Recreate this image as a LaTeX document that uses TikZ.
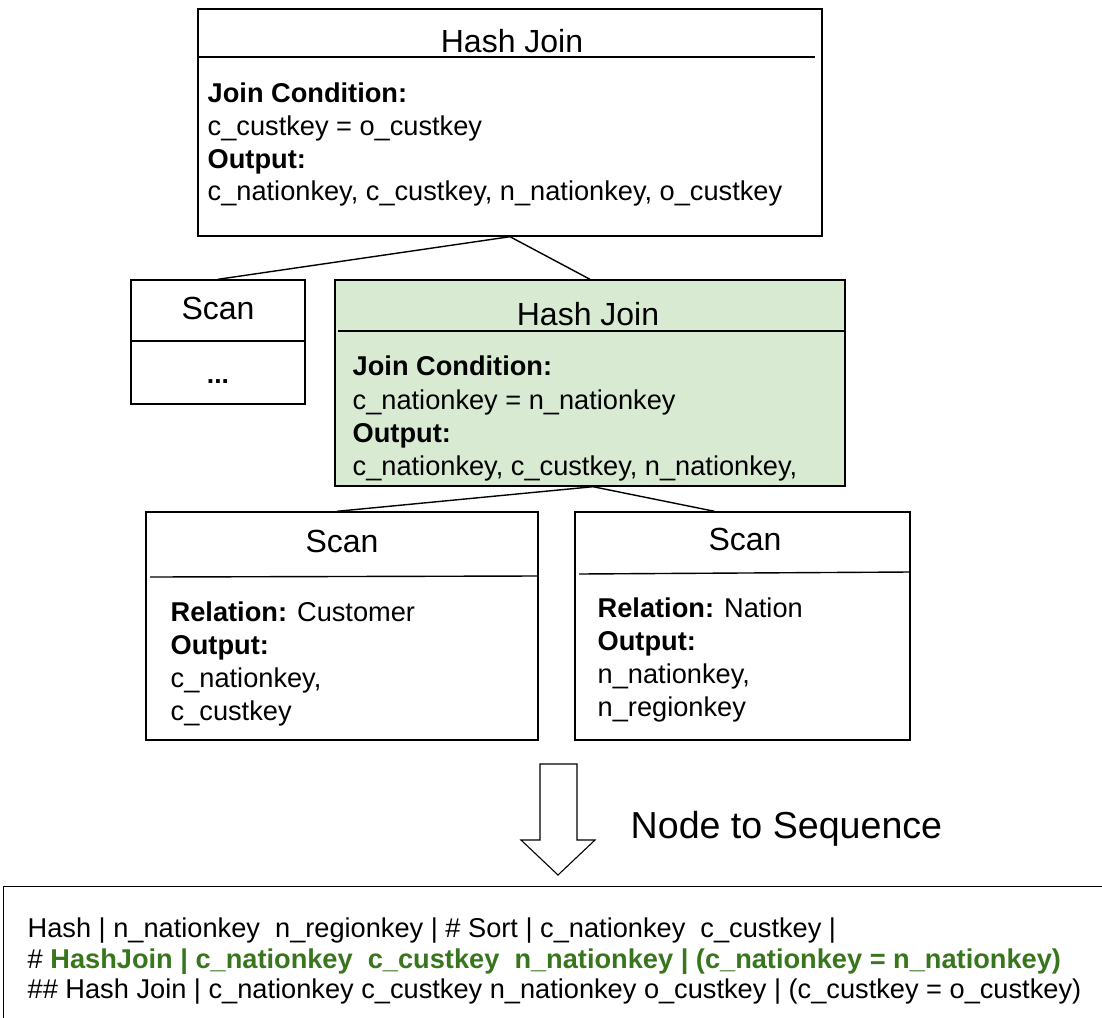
\documentclass[tikz,border=0pt]{standalone}
\usepackage{fontspec}
\setmainfont{Liberation Sans}
\usetikzlibrary{calc}
\definecolor{joinfill}{HTML}{D9EAD3}
\definecolor{seqgreen}{HTML}{38761D}

\begin{document}
\begin{tikzpicture}[x=1pt,y=-1pt,line width=1.4pt,
  box/.style={draw, rectangle, inner sep=0pt},
  optitle/.style={font=\fontsize{32}{36}\selectfont, anchor=base, inner sep=0pt},
  bodytext/.style={font=\fontsize{27.2}{32.5}\selectfont, anchor=base west, inner sep=0pt},
  seqtext/.style={font=\fontsize{27.2}{31}\selectfont, anchor=base west, inner sep=0pt},
  link/.style={line width=1.4pt}]
\useasboundingbox (0,0) rectangle (1102,1017);
\clip (0,0) rectangle (1102,1017);

% ---- operator boxes ----
\node[box, minimum width=624pt, minimum height=227pt] (hjtop) at (510,122.5) {};
\node[box, minimum width=174pt, minimum height=124pt] (scanL) at (218,342) {};
\node[box, fill=joinfill, minimum width=510pt, minimum height=206pt] (hjmid) at (590,383) {};
\node[box, minimum width=392pt, minimum height=228pt] (scanC) at (342,626) {};
\node[box, minimum width=335pt, minimum height=228pt] (scanN) at (742.5,626) {};

% title separators
\draw (198,57) -- (815,57);
\draw (131,341) -- (305,341);
\draw (338,331) -- (845,331);
\draw (150,577) -- (538,576);
\draw (579,574) -- (910,572);

% ---- tree edges ----
\draw[link] (hjtop.south) -- (scanL.north);
\draw[link] (hjtop.south) -- (hjmid.north);
\draw[link] ([xshift=3pt]hjmid.south) -- ([xshift=-5pt]scanC.north);
\draw[link] ([xshift=3pt]hjmid.south) -- ([xshift=-28pt]scanN.north);

% ---- top hash join ----
\node[optitle] (hjtopT) at (512,52) {Hash Join};
\node[bodytext] (hjtopA) at (207,102) {\textbf{Join Condition:}};
\node[bodytext] (hjtopB) at (207,135) {c\_custkey = o\_custkey};
\node[bodytext] (hjtopC) at (207,168) {\textbf{Output:}};
\node[bodytext] (hjtopD) at (207,200) {c\_nationkey, c\_custkey, n\_nationkey, o\_custkey};

% ---- left scan ----
\node[optitle] (scanLT) at (218,319) {Scan};
\node[optitle, font=\fontsize{26.5}{30}\selectfont\bfseries] (scanLB) at (218,383) {...};

% ---- middle hash join ----
\node[optitle] (hjmidT) at (588,325) {Hash Join};
\node[bodytext] (hjmidA) at (352,375) {\textbf{Join Condition:}};
\node[bodytext] (hjmidB) at (352,409) {c\_nationkey = n\_nationkey};
\node[bodytext] (hjmidC) at (352,442) {\textbf{Output:}};
\node[bodytext] (hjmidD) at (352,475) {c\_nationkey, c\_custkey, n\_nationkey,};

% ---- customer scan ----
\node[optitle] (scanCT) at (342,552) {Scan};
\node[bodytext] (scanCA) at (170,621) {\textbf{Relation:} Customer};
\node[bodytext] (scanCB) at (170,654) {\textbf{Output:}};
\node[bodytext] (scanCC) at (170,687) {c\_nationkey,};
\node[bodytext] (scanCD) at (170,720) {c\_custkey};

% ---- nation scan ----
\node[optitle] (scanNT) at (745,550) {Scan};
\node[bodytext] (scanNA) at (597,617) {\textbf{Relation:} Nation};
\node[bodytext] (scanNB) at (597,650) {\textbf{Output:}};
\node[bodytext] (scanNC) at (597,683) {n\_nationkey,};
\node[bodytext] (scanND) at (597,716) {n\_regionkey};

% ---- conversion arrow ----
\draw[line width=1.1pt, line join=miter]
  (540,764) -- (577,764) -- (577,840) -- (595,840) -- (558,875)
  -- (521,840) -- (540,840) -- cycle;
\node[font=\fontsize{37.6}{40}\selectfont, anchor=base west, inner sep=0pt] (convlabel) at (630,838) {Node to Sequence};

% ---- sequence box ----
\node[box, anchor=north west, minimum width=1130pt, minimum height=160pt] (seqbox) at (3,886) {};
\node[seqtext] (seqA) at (27,937) {Hash | n\_nationkey\ \ n\_regionkey | \# Sort | c\_nationkey\ \ c\_custkey |};
\node[seqtext] (seqB) at (27,968) {\# {\color{seqgreen}\bfseries HashJoin | c\_nationkey\ \ c\_custkey\ \ n\_nationkey | (c\_nationkey = n\_nationkey)}};
\node[seqtext] (seqC) at (27,998) {\#\# Hash Join | c\_nationkey c\_custkey n\_nationkey o\_custkey | (c\_custkey = o\_custkey)};
\end{tikzpicture}
\end{document}
